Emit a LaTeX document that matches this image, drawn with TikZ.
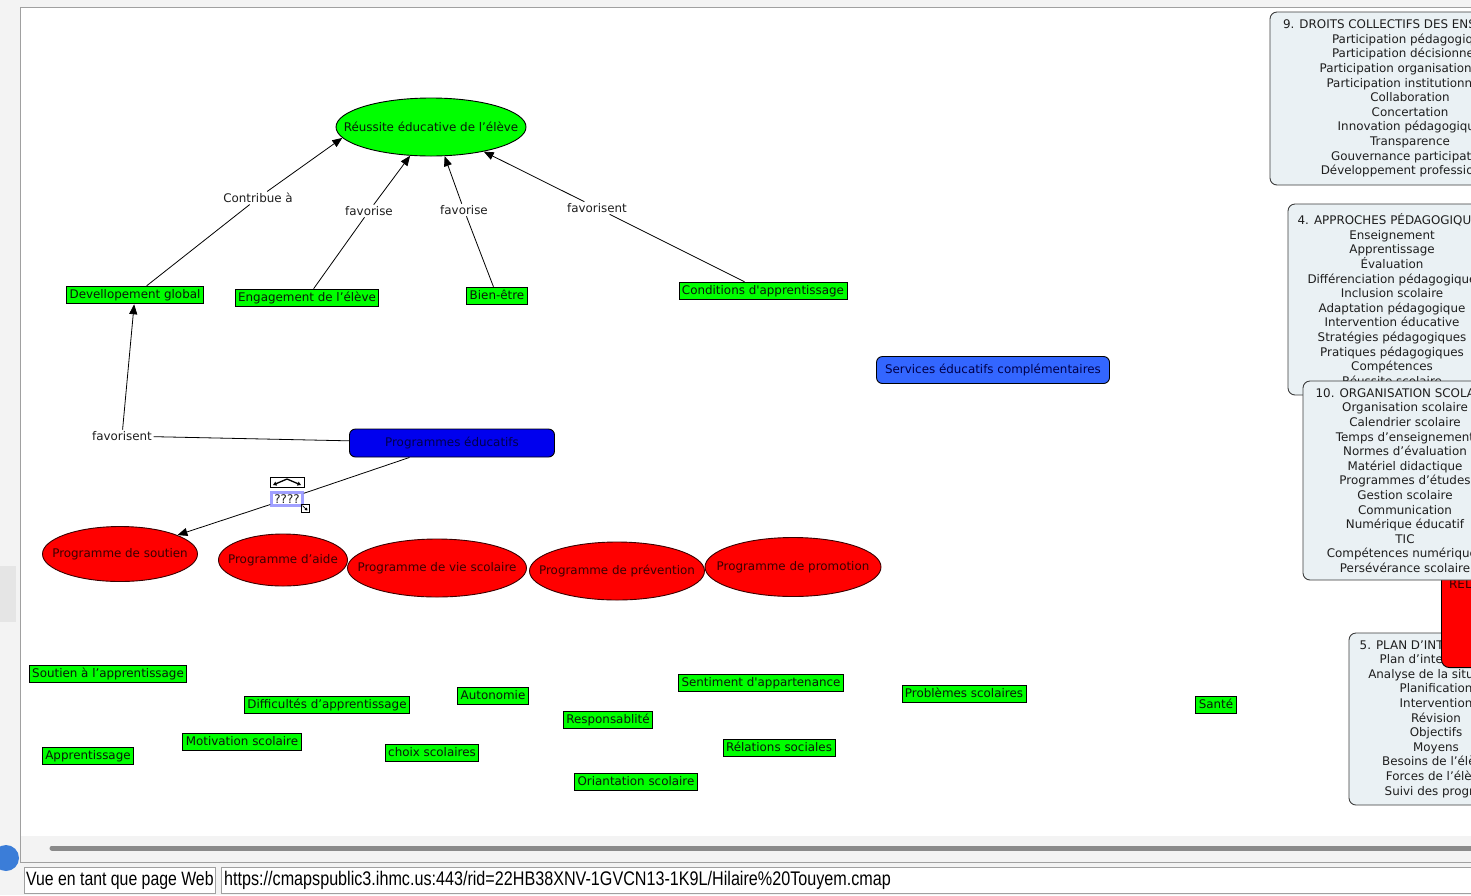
\documentclass[tikz,border=0pt]{standalone}
\usepackage{fontspec}
\setmainfont{DejaVu Sans}
\newfontfamily\narrowfont[FakeStretch=0.82]{Liberation Sans}
\usepackage{tikz}
\usetikzlibrary{arrows.meta,calc,shapes.geometric}

\definecolor{cmgreen}{HTML}{00FF00}
\definecolor{cmred}{HTML}{FF0000}
\definecolor{cmblue}{HTML}{0000EE}
\definecolor{cmsky}{HTML}{3366FF}
\definecolor{conceptink}{HTML}{0A1A0A}
\definecolor{redink}{HTML}{3A0000}
\definecolor{hubink}{HTML}{00004A}
\definecolor{linkink}{HTML}{1E1E1E}
\definecolor{redline}{HTML}{3A0000}
\definecolor{panelbg}{HTML}{EAF1F4}
\definecolor{panelline}{HTML}{3C3C3C}
\definecolor{panelink}{HTML}{1E1E1E}
\definecolor{selline}{HTML}{A0A0FF}
\definecolor{winbg}{HTML}{F3F3F3}
\definecolor{framegray}{HTML}{A0A0A0}
\definecolor{scrollbar}{HTML}{8A8A8A}
\definecolor{tabblue}{HTML}{3B7DD8}

\newcommand{\cmfont}{\fontsize{11.9}{14.6}\selectfont}
\newcommand{\barfont}{\narrowfont\fontsize{19.3}{22}\selectfont}
\newcommand{\urlfont}{\narrowfont\fontsize{19.7}{22}\selectfont}
\newcommand{\ctext}[1]{\makebox[0pt][c]{#1}}

\begin{document}
\begin{tikzpicture}[x=1pt, y=-1pt,
  concept/.style={draw=black, line width=0.9pt, fill=cmgreen, text=conceptink, font=\cmfont, inner xsep=3pt, inner ysep=3pt, text height=9pt, text depth=2.6pt},
  prog/.style={ellipse, draw=redline, line width=0.9pt, fill=cmred, text=redink, font=\cmfont, inner sep=0pt},
  hub/.style={draw=black, line width=0.9pt, rounded corners=6pt, text=hubink, font=\cmfont},
  lnk/.style={fill=white, inner sep=1.5pt, text=linkink, font=\cmfont},
  arr/.style={-{Triangle[length=10pt,width=8pt]}, line width=0.8pt},
  panel/.style={draw=panelline, line width=0.9pt, rounded corners=7pt, fill=panelbg, text=panelink, align=center, font=\cmfont, inner sep=0pt}
]
\useasboundingbox (0,0) rectangle (1471,895);
\clip (0,0) rectangle (1471,895);

% window
\fill[winbg] (0,0) rectangle (1471,895);
\fill[black!10] (0,566) rectangle (16,622);
\fill[tabblue] (6,858) circle (13);
\fill[white] (20,7) rectangle (1471,836);
\fill[winbg] (20,836) rectangle (1471,862);
\draw[framegray] (1471,7) -- (20,7) -- (20,862) -- (1471,862);
\draw[scrollbar, line width=5pt, line cap=round] (52,848) -- (1480,848);

% status bar
\node[draw=framegray, fill=white, font=\barfont, text=black, anchor=west, minimum height=26pt, inner xsep=2pt] (viewbtn) at (24,880) {Vue en tant que page Web};
\node[draw=framegray, fill=white, font=\urlfont, text=black, anchor=west, minimum height=26pt, text width=1262pt, inner xsep=3pt, align=left] (urlbox) at (221,880) {https://cmapspublic3.ihmc.us:443/rid=22HB38XNV-1GVCN13-1K9L/Hilaire\%20Touyem.cmap};

% side panels
\node[panel, minimum width=280pt, minimum height=173pt] (droits) at (1410,98.5) {9. DROITS COLLECTIFS DES ENSEIGNANTS\\ Participation pédagogique\\ Participation décisionnelle\\ Participation organisationnelle\\ Participation institutionnelle\\ Collaboration\\ Concertation\\ Innovation pédagogique\\ Transparence\\ Gouvernance participative\\ Développement professionnel};
\node[panel, minimum width=208pt, minimum height=191pt] (approches) at (1392,299.5) {4. APPROCHES PÉDAGOGIQUES\\ Enseignement\\ Apprentissage\\ Évaluation\\ Différenciation pédagogique\\ Inclusion scolaire\\ Adaptation pédagogique\\ Intervention éducative\\ Stratégies pédagogiques\\ Pratiques pédagogiques\\ Compétences\\ Réussite scolaire};
\node[panel, minimum width=174pt, minimum height=172pt] (plan) at (1436,719) {5. PLAN D’INTERVENTION\\ Plan d’intervention\\ Analyse de la situation\\ Planification\\ Intervention\\ Révision\\ Objectifs\\ Moyens\\ Besoins de l’élève\\ Forces de l’élève\\ Suivi des progrès};
\node[draw=black, line width=0.9pt, fill=cmred, rounded corners=8pt, anchor=south west, minimum width=90pt, minimum height=110pt] (relbox) at (1441,668) {};
\node[font=\cmfont, text=redink, anchor=base west, inner sep=0pt] (reltxt) at (1449,588) {REL};
\node[panel, minimum width=204pt, minimum height=199pt] (organisation) at (1405,480.5) {10. ORGANISATION SCOLAIRE\\ Organisation scolaire\\ Calendrier scolaire\\ Temps d’enseignement\\ Normes d’évaluation\\ Matériel didactique\\ Programmes d’études\\ Gestion scolaire\\ Communication\\ Numérique éducatif\\ TIC\\ Compétences numériques\\ Persévérance scolaire};

% top concept
\node[ellipse, draw=black, line width=0.9pt, fill=cmgreen, text=conceptink, font=\cmfont, inner sep=0pt, minimum width=190pt, minimum height=58pt] (reussite) at (431,127) {\ctext{Réussite éducative de l’élève}};

\node[concept] (devel) at (135,295) {Devellopement global};
\node[concept] (engag) at (307,298) {Engagement de l’élève};
\node[concept] (bien) at (497,296) {Bien-être};
\node[concept] (condi) at (763,291) {Conditions d\textquotesingle apprentissage};

\node[lnk] (contrib) at (258,198) {Contribue à};
\node[lnk] (fav1) at (369,211) {favorise};
\node[lnk] (fav2) at (464,210) {favorise};
\node[lnk] (fav3) at (597,208) {favorisent};

\draw[line width=0.8pt] (devel) -- (contrib);
\draw[arr] (contrib) -- (reussite.187);
\draw[line width=0.8pt] (engag) -- (fav1);
\draw[arr] (fav1) -- (reussite.234);
\draw[line width=0.8pt] (bien) -- (fav2);
\draw[arr] (fav2) -- (reussite.295);
\draw[line width=0.8pt] (condi) -- (fav3);
\draw[arr] (fav3) -- (reussite.335);

% programmes
\node[hub, fill=cmsky, minimum width=233pt, minimum height=27pt] (services) at (993,370) {Services éducatifs complémentaires};
\node[hub, fill=cmblue, minimum width=205pt, minimum height=28pt] (progedu) at (452,443) {Programmes éducatifs};
\node[lnk] (fav4) at (122,436) {favorisent};
\draw[line width=0.8pt] (progedu) -- (fav4);
\draw[arr] (fav4) -- (devel);

\node[prog, minimum width=155pt, minimum height=55pt] (soutien) at (120,554) {\ctext{Programme de soutien}};
\node[prog, minimum width=129pt, minimum height=52pt] (aide) at (283,560) {\ctext{Programme d’aide}};
\node[prog, minimum width=179pt, minimum height=58pt] (viesco) at (437,568) {\ctext{Programme de vie scolaire}};
\node[prog, minimum width=175pt, minimum height=58pt] (preven) at (617,571) {\ctext{Programme de prévention}};
\node[prog, minimum width=176pt, minimum height=59pt] (promo) at (793,567) {\ctext{Programme de promotion}};

% link being edited
\node[draw=selline, line width=2.5pt, fill=white, font=\cmfont, text=linkink, minimum width=31pt, minimum height=13pt, inner sep=0pt] (qq) at (287,499) {????};
\draw[line width=0.8pt] (progedu) -- (qq);
\draw[arr] (qq) -- (soutien);
\node[draw=black, line width=0.9pt, fill=white, minimum width=34pt, minimum height=10pt, inner sep=0pt] (qqicon) at (287,482) {};
\draw[{Triangle[length=3.5pt,width=4pt]}-{Triangle[length=3.5pt,width=4pt]}, line width=1.3pt]
  ($(qqicon.center)+(-14,3)$) -- ($(qqicon.center)+(0,-3)$) -- ($(qqicon.center)+(14,3)$);
\node[draw=black, line width=0.8pt, fill=white, minimum size=8pt, inner sep=0pt] (qqgrip) at (305,508) {};
\draw[-{Triangle[length=2.5pt,width=3pt]}, line width=0.7pt] ($(qqgrip.center)+(-2.5,-2.5)$) -- ($(qqgrip.center)+(2.5,2.5)$);

% loose concepts
\node[concept] (soutapp) at (108,674) {Soutien à l’apprentissage};
\node[concept] (diffic) at (327,705) {Difficultés d’apprentissage};
\node[concept] (autono) at (493,696) {Autonomie};
\node[concept] (sentim) at (761,683) {Sentiment d\textquotesingle appartenance};
\node[concept] (problem) at (964,694) {Problèmes scolaires};
\node[concept] (sante) at (1216,705) {Santé};
\node[concept] (respons) at (608,720) {Responsablité};
\node[concept] (motiv) at (242,742) {Motivation scolaire};
\node[concept] (relsoc) at (779,748) {Rélations sociales};
\node[concept] (choix) at (432,753) {choix scolaires};
\node[concept] (apprent) at (88,756) {Apprentissage};
\node[concept] (orient) at (636,782) {Oriantation scolaire};
\end{tikzpicture}
\end{document}
